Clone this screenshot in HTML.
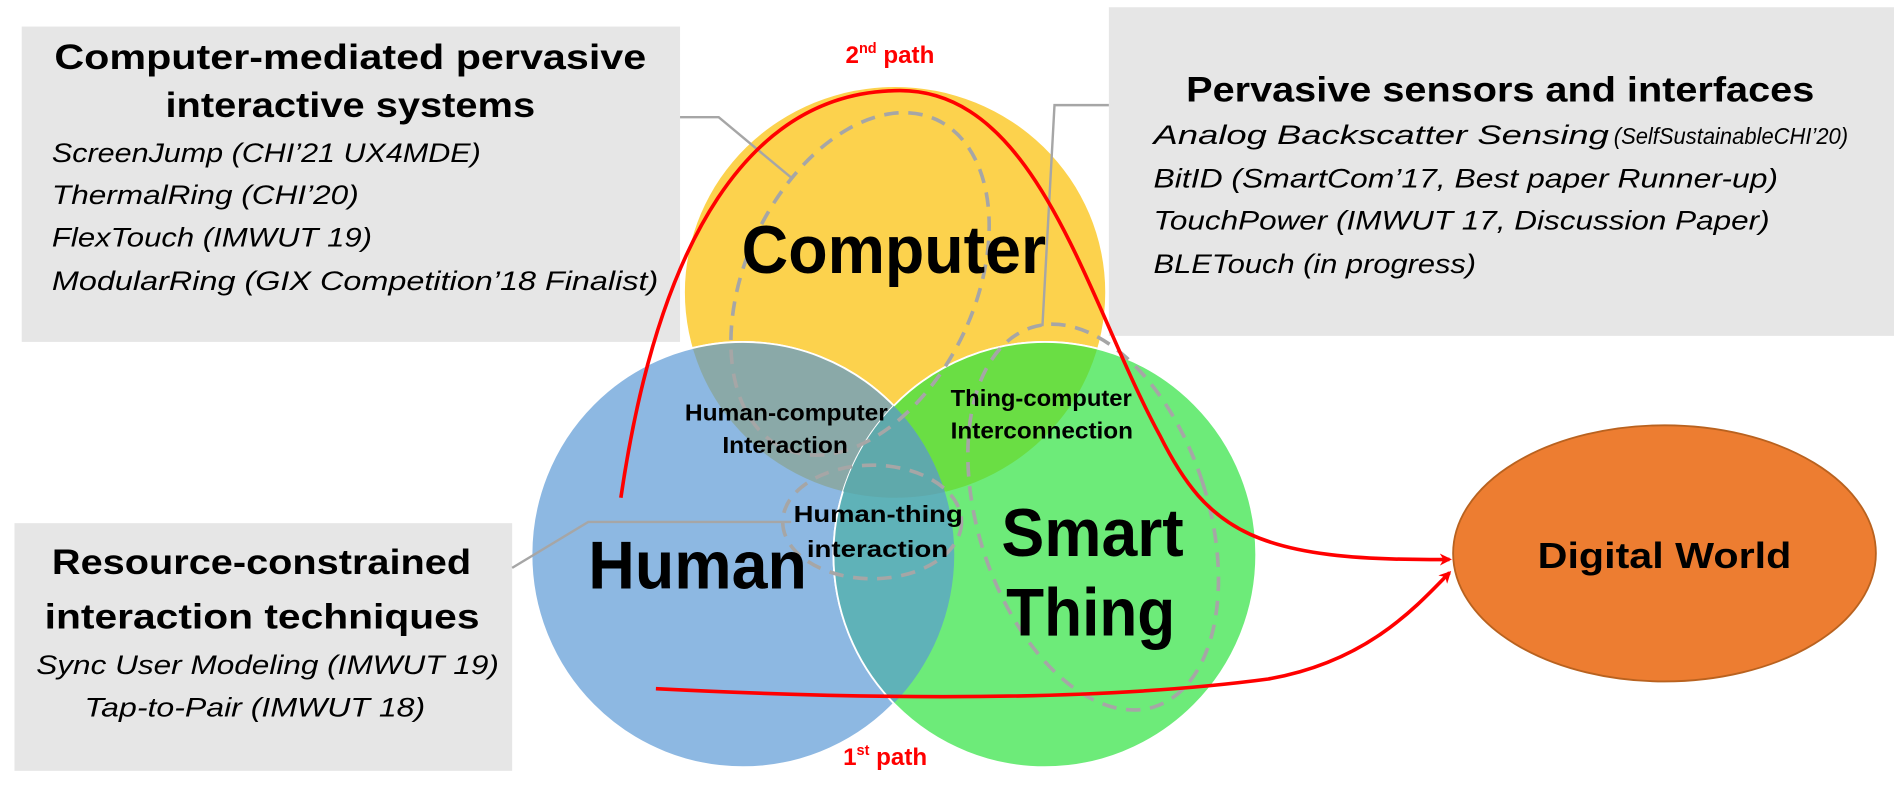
<!DOCTYPE html>
<html><head><meta charset="utf-8"><style>
html,body{margin:0;padding:0;background:#fff;}
svg{display:block;}
text{font-family:"Liberation Sans",sans-serif;}
</style></head><body>
<svg width="1894" height="795" viewBox="0 0 1568 658" preserveAspectRatio="none" xmlns="http://www.w3.org/2000/svg">
<defs>
<clipPath id="cy"><ellipse cx="741" cy="242" rx="174" ry="170"/></clipPath>
<clipPath id="cb"><ellipse cx="615" cy="459" rx="175" ry="176"/></clipPath>
<clipPath id="cg"><ellipse cx="865" cy="459" rx="175" ry="176"/></clipPath>
<marker id="ar" markerWidth="10" markerHeight="10" refX="8" refY="5" orient="auto" markerUnits="userSpaceOnUse"><path d="M0,0 L10,5 L0,10 L3,5 z" fill="#ff0000"/></marker>
</defs>
<rect x="18" y="22" width="545" height="261" fill="#e6e6e6"/>
<rect x="918" y="6" width="650" height="272" fill="#e6e6e6"/>
<rect x="12" y="433" width="412" height="205" fill="#e6e6e6"/>
<ellipse cx="741" cy="242" rx="174" ry="170" fill="#fcd24d"/>
<ellipse cx="615" cy="459" rx="175" ry="176" fill="#8db8e2" stroke="#fff" stroke-width="1.5"/>
<ellipse cx="865" cy="459" rx="175" ry="176" fill="#6deb79" stroke="#fff" stroke-width="1.5"/>
<g clip-path="url(#cy)"><ellipse cx="615" cy="459" rx="175" ry="176" fill="#8aa9a8" stroke="#fff" stroke-width="1.5"/>
<ellipse cx="865" cy="459" rx="175" ry="176" fill="#6ade44" stroke="#fff" stroke-width="1.5"/></g>
<g clip-path="url(#cb)"><ellipse cx="865" cy="459" rx="175" ry="176" fill="#5fb2b8" stroke="#fff" stroke-width="1.5"/></g>
<g clip-path="url(#cb)"><g clip-path="url(#cg)"><ellipse cx="741" cy="242" rx="174" ry="170" fill="#5fa9ab"/></g></g>
<g fill="none" stroke="#a6a6a6" stroke-width="3" stroke-dasharray="12,8">
<ellipse cx="712" cy="235" rx="95" ry="150" transform="rotate(25 712 235)"/>
<ellipse cx="905" cy="428" rx="95" ry="165" transform="rotate(-18 905 428)"/>
<ellipse cx="722" cy="432" rx="74" ry="47"/>
</g>
<g fill="none" stroke="#a6a6a6" stroke-width="2">
<polyline points="563,97 595,97 655,147"/>
<polyline points="918,87 873,87 863,270"/>
<polyline points="424,470 487,432 655,432"/>
</g>
<ellipse cx="1378" cy="458" rx="175" ry="106" fill="#ed7d31" stroke="#b9621f" stroke-width="1.5"/>
<g fill="none" stroke="#ff0000" stroke-width="3">
<path d="M514,412 C545,200 620,75 745,75 C860,75 900,250 960,360 C1000,440 1040,465 1200,463" marker-end="url(#ar)"/>
<path d="M543,570 C700,578 900,582 1050,562 C1130,548 1170,505 1200,474" marker-end="url(#ar)"/>
</g>
<text x="700" y="52" font-size="20" font-weight="bold" fill="#ff0000">2<tspan font-size="12" dy="-8">nd</tspan><tspan dy="8"> path</tspan></text>
<text x="698" y="633" font-size="20" font-weight="bold" fill="#ff0000">1<tspan font-size="12" dy="-8">st</tspan><tspan dy="8"> path</tspan></text>
<g font-weight="bold" font-size="29" fill="#000">
<text x="45" y="57" textLength="490" lengthAdjust="spacingAndGlyphs">Computer-mediated pervasive</text>
<text x="137" y="97" textLength="306" lengthAdjust="spacingAndGlyphs">interactive systems</text>
<text x="982" y="84" textLength="520" lengthAdjust="spacingAndGlyphs">Pervasive sensors and interfaces</text>
<text x="43" y="475" textLength="347" lengthAdjust="spacingAndGlyphs">Resource-constrained</text>
<text x="37" y="520" textLength="360" lengthAdjust="spacingAndGlyphs">interaction techniques</text>
</g>
<g font-style="italic" font-size="22" fill="#000">
<text x="43" y="134" textLength="355" lengthAdjust="spacingAndGlyphs">ScreenJump (CHI’21 UX4MDE)</text>
<text x="43" y="169" textLength="254" lengthAdjust="spacingAndGlyphs">ThermalRing (CHI’20)</text>
<text x="43" y="204" textLength="265" lengthAdjust="spacingAndGlyphs">FlexTouch (IMWUT 19)</text>
<text x="43" y="240" textLength="502" lengthAdjust="spacingAndGlyphs">ModularRing (GIX Competition’18 Finalist)</text>
<text x="955" y="119" textLength="377" lengthAdjust="spacingAndGlyphs">Analog Backscatter Sensing</text>
<text x="1336" y="119" font-size="19" textLength="194" lengthAdjust="spacingAndGlyphs">(SelfSustainableCHI’20)</text>
<text x="955" y="155" textLength="517" lengthAdjust="spacingAndGlyphs">BitID (SmartCom’17, Best paper Runner-up)</text>
<text x="955" y="190" textLength="510" lengthAdjust="spacingAndGlyphs">TouchPower (IMWUT 17, Discussion Paper)</text>
<text x="955" y="226" textLength="267" lengthAdjust="spacingAndGlyphs">BLETouch (in progress)</text>
<text x="30" y="558" textLength="383" lengthAdjust="spacingAndGlyphs">Sync User Modeling (IMWUT 19)</text>
<text x="70" y="593" textLength="282" lengthAdjust="spacingAndGlyphs">Tap-to-Pair (IMWUT 18)</text>
</g>
<g font-weight="bold" fill="#000">
<text x="614" y="226" font-size="56" textLength="252" lengthAdjust="spacingAndGlyphs">Computer</text>
<text x="487" y="487" font-size="56" textLength="181" lengthAdjust="spacingAndGlyphs">Human</text>
<text x="829" y="460" font-size="56" textLength="151" lengthAdjust="spacingAndGlyphs">Smart</text>
<text x="833" y="526" font-size="56" textLength="140" lengthAdjust="spacingAndGlyphs">Thing</text>
<text x="1273" y="470" font-size="30" textLength="210" lengthAdjust="spacingAndGlyphs">Digital World</text>
<g font-size="19">
<text x="567" y="348" textLength="168" lengthAdjust="spacingAndGlyphs">Human-computer</text>
<text x="598" y="375" textLength="104" lengthAdjust="spacingAndGlyphs">Interaction</text>
<text x="787" y="336" textLength="150" lengthAdjust="spacingAndGlyphs">Thing-computer</text>
<text x="787" y="363" textLength="151" lengthAdjust="spacingAndGlyphs">Interconnection</text>
<text x="657" y="432" textLength="140" lengthAdjust="spacingAndGlyphs">Human-thing</text>
<text x="668" y="461" textLength="117" lengthAdjust="spacingAndGlyphs">interaction</text>
</g>
</g>
</svg>
</body></html>
